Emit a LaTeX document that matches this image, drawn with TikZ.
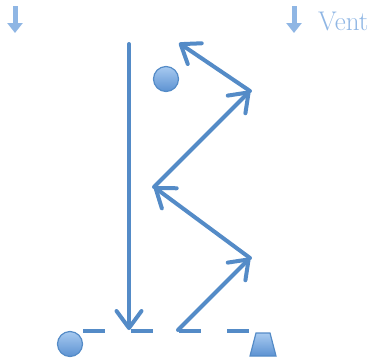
\documentclass[tikz,border=0pt]{standalone}
\usepackage{tikz}
\usetikzlibrary{arrows.meta}
\definecolor{flowblue}{RGB}{84,139,199}
\definecolor{ventblue}{RGB}{143,182,228}
\definecolor{balltop}{RGB}{168,202,240}
\definecolor{ballbot}{RGB}{92,146,210}

\begin{document}
\begin{tikzpicture}[x=1pt, y=-1pt,
  flow/.style={flowblue, line width=4pt, line cap=round,
    -{Straight Barb[length=17pt, width=25pt, line cap=round, round]}},
  ventarrow/.style={ventblue, line width=5pt, -{Triangle[length=10pt, width=15pt]}},
  ball/.style={draw=flowblue, line width=1.2pt, top color=balltop, bottom color=ballbot}]
  \useasboundingbox (0,0) rectangle (375,360);
  % vent markers
  \coordinate (ventL0) at (15,6);
  \coordinate (ventL1) at (15,33);
  \coordinate (ventR0) at (294,6);
  \coordinate (ventR1) at (294,33);
  \draw[ventarrow] (ventL0) -- (ventL1);
  \draw[ventarrow] (ventR0) -- (ventR1);
  \node[ventblue, anchor=west, inner sep=0pt, font=\fontsize{27}{30}\selectfont] (vent) at (318,21) {Vent};
  % floor
  \draw[flowblue, line width=3.8pt, dash pattern=on 22pt off 26pt] (83,331) -- (250,331);
  % straight drop
  \coordinate (v0) at (129,44);
  \coordinate (v1) at (129,330);
  \draw[flow] (v0) -- (v1);
  % zigzag path
  \coordinate (z0) at (178,330);
  \coordinate (z1) at (250,258);
  \coordinate (z2) at (154,187);
  \coordinate (z3) at (250,91);
  \coordinate (z4) at (179,43);
  \draw[flow] (z0) -- (z1);
  \draw[flow] (z1) -- (z2);
  \draw[flow] (z2) -- (z3);
  \draw[flow] (z3) -- (z4);
  % balls and cup
  \shade[ball] (166,79) circle (12.5pt);
  \shade[ball] (70,344) circle (12.5pt);
  \shade[ball] (250,356) -- (256,333) -- (270,333) -- (276,356) -- cycle;
\end{tikzpicture}
\end{document}
